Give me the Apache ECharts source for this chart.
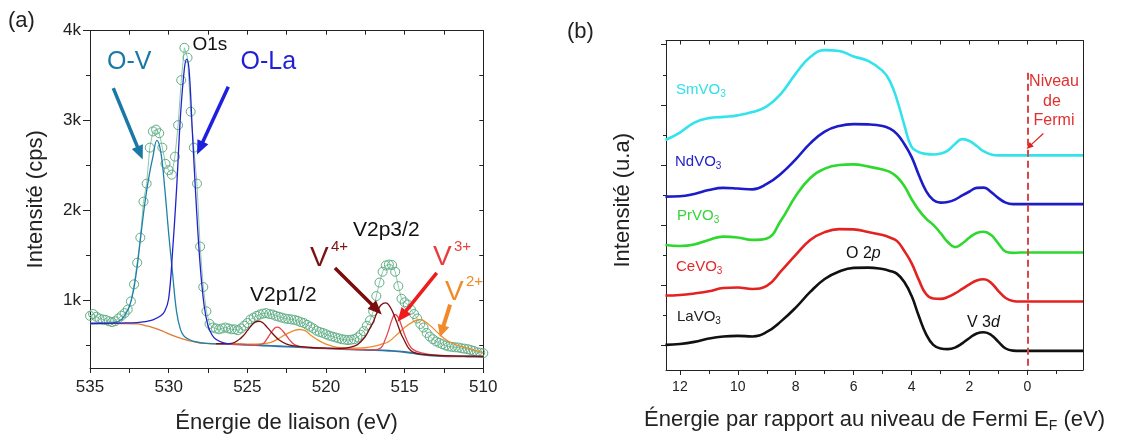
<!DOCTYPE html>
<html><head><meta charset="utf-8">
<script src="https://cdn.jsdelivr.net/npm/echarts@6/dist/echarts.min.js"></script>
<style>html,body{margin:0;padding:0;background:#fff}#c{width:1121px;height:435px}</style>
</head><body><div id="c"></div>
<script>
// ---------- Panel (a): XPS O1s / V2p ----------
const aEnergy = [535,534.8,534.6,534.4,534.2,534,533.8,533.6,533.4,533.2,533,532.8,532.6,532.4,532.2,532,531.8,531.6,531.4,531.2,531,530.8,530.6,530.4,530.2,530,529.8,529.6,529.4,529.2,529,528.8,528.6,528.4,528.2,528,527.8,527.6,527.4,527.2,527,526.8,526.6,526.4,526.2,526,525.8,525.6,525.4,525.2,525,524.8,524.6,524.4,524.2,524,523.8,523.6,523.4,523.2,523,522.8,522.6,522.4,522.2,522,521.8,521.6,521.4,521.2,521,520.8,520.6,520.4,520.2,520,519.8,519.6,519.4,519.2,519,518.8,518.6,518.4,518.2,518,517.8,517.6,517.4,517.2,517,516.8,516.6,516.4,516.2,516,515.8,515.6,515.4,515.2,515,514.8,514.6,514.4,514.2,514,513.8,513.6,513.4,513.2,513,512.8,512.6,512.4,512.2,512,511.8,511.6,511.4,511.2,511,510.8,510.6,510.4,510.2,510];
const aCounts = [830,850,820,800,790,785,770,760,770,800,830,860,900,990,1180,1420,1700,2100,2300,2700,2880,2900,2860,2700,2520,2450,2400,2600,2950,3450,3810,3700,3100,2700,2300,1600,1150,880,740,700,690,680,690,700,690,680,680,670,690,720,750,790,810,830,845,855,860,850,845,830,820,810,800,795,790,785,775,760,750,730,710,690,665,650,640,625,610,600,590,580,570,565,560,565,570,590,620,660,720,780,880,1050,1200,1320,1390,1400,1395,1320,1160,1020,980,955,900,850,800,740,700,640,600,570,545,530,515,500,490,485,480,478,470,465,460,450,440,425,420,415];

const bgOE = [535,533,532,531.5,531,530.5,530,529.5,529,528.5,528,527.5,527];
const bgOI = [745,745,740,722,700,668,630,595,568,545,528,522,519];
const bgVE = [527,526,525,524,523,522,521,520,519,518,517,516,515,514,513,512,511,510];
const bgVI = [519,516,508,500,492,484,476,468,461,455,450,442,428,402,385,380,378,377];
const ovE = [535,534,533.5,533,532.75,532.5,532.25,532,531.75,531.5,531.25,531,530.75,530.5,530.25,530,529.75,529.5,529.25,529,528.5,528,527.5,527];
const ovI = [745,745,752,790,850,930,1100,1380,1750,2100,2380,2600,2780,2650,2250,1750,1300,880,680,600,552,533,523,518];
const olaE = [535,533,532,531.5,531,530.5,530.25,530,529.75,529.5,529.25,529,528.85,528.7,528.5,528.25,528,527.75,527.5,527.25,527,526.5,526];
const olaI = [745,750,755,765,785,830,880,1020,1550,2230,3050,3580,3685,3560,2900,2080,1400,950,720,620,570,530,520];
const v4E = [527,526,525.5,525.25,525,524.75,524.5,524.25,524,523.75,523.5,523.25,523,522.5,522,521,520,519,518.5,518,517.5,517.25,517,516.75,516.5,516.2,516,515.75,515.5,515.25,515,514.75,514.5,514,513,512,510];
const v4I = [520,524,570,610,665,720,760,770,750,705,655,605,565,515,495,478,470,468,480,510,600,680,760,870,950,974,950,870,760,640,550,470,430,405,392,384,379];
const v3E = [527,525,524.5,524,523.75,523.5,523.25,523.1,522.9,522.6,522.3,522,521.5,521,520,519,518,517,516.5,516.25,516,515.8,515.6,515.4,515.2,515,514.75,514.5,514,513,512,510];
const v3I = [520,510,505,520,575,640,695,704,690,630,560,510,482,476,468,461,455,452,475,560,680,790,845,810,720,620,520,460,420,390,381,378];
const v2E = [527,526,525,524,523.5,523,522.5,522,521.66,521.3,521,520.5,520,519.5,519,518,517.5,517,516.5,516,515.5,515,514.5,514.03,513.5,513,512.5,512,511.5,511,510.5,510];
const v2I = [520,520,514,520,535,578,630,668,678,662,620,560,515,488,476,472,476,490,513,545,620,700,760,789,740,660,580,525,492,470,446,422];

// ---------- Panel (b): valence band spectra ----------
const bEnergy = [12.5,12,11.5,11,10.5,10,9.5,9,8.5,8,7.5,7,6.5,6,5.5,5,4.75,4.5,4.25,4,3.75,3.5,3.25,3,2.75,2.5,2.25,2,1.75,1.5,1.25,1,0.75,0.5,0.25,0,-1,-1.92];
const laVO3 = [0.02,0.05,0.12,0.23,0.30,0.32,0.30,0.45,0.81,1.26,1.78,2.21,2.46,2.58,2.59,2.54,2.48,2.38,2.11,1.65,0.98,0.38,0.02,-0.10,-0.12,-0.07,0.07,0.25,0.40,0.44,0.35,0.12,-0.10,-0.17,-0.18,-0.18,-0.18,-0.18];
const ceVO3 = [1.66,1.68,1.73,1.80,1.91,1.93,1.88,1.98,2.48,3.01,3.51,3.77,3.87,3.86,3.77,3.67,3.59,3.47,3.14,2.74,2.18,1.71,1.56,1.55,1.61,1.73,1.88,2.03,2.16,2.20,2.08,1.81,1.58,1.48,1.46,1.46,1.46,1.46];
const prVO3 = [3.34,3.31,3.36,3.51,3.62,3.59,3.51,3.56,4.17,4.97,5.57,5.88,6.00,6.02,5.95,5.85,5.77,5.60,5.30,4.87,4.50,4.22,4.01,3.74,3.44,3.27,3.39,3.59,3.74,3.78,3.67,3.39,3.12,3.08,3.09,3.09,3.09,3.09];
const ndVO3 = [4.95,4.96,5.04,5.17,5.24,5.22,5.19,5.37,5.72,6.19,6.72,7.11,7.30,7.36,7.35,7.30,7.21,7.03,6.70,6.27,5.67,5.14,4.84,4.75,4.77,4.85,4.99,5.12,5.24,5.25,5.10,4.90,4.75,4.70,4.70,4.70,4.70,4.70];
const smVO3 = [6.83,7.08,7.41,7.56,7.60,7.65,7.76,7.95,8.38,9.04,9.59,9.82,9.79,9.61,9.46,9.13,8.79,8.16,7.33,6.60,6.43,6.37,6.35,6.38,6.48,6.70,6.86,6.80,6.63,6.45,6.35,6.32,6.32,6.32,6.32,6.32,6.32,6.32];

const aYTicks = [1000,2000,3000,4000];
const aYMinor = [500,1500,2500,3500];
const aYRight = [500,1000,1500,2000,2500,3000,3500,4000];
const bXTicks = [0,2,4,6,8,10,12];
const bXMinor = [-1,1,3,5,7,9,11];
const bXTop = [-1,0,1,2,3,4,5,6,7,8,9,10,11,12];
const bYTicks = [0,2,4,6,8,10];
const bYMinor = [1,3,5,7,9];

const FONT = '"Liberation Sans", Arial, sans-serif';
const AX = '#222';
const pairs = (xs, ys) => xs.map((x, i) => [x, ys[i]]);

const chart = echarts.init(document.getElementById('c'), null, {renderer: 'canvas'});

function xAx(o) {
  return Object.assign({
    type: 'value', splitLine: {show: false},
    axisLine: {show: true, onZero: false, lineStyle: {color: AX, width: 1}},
    axisTick: {show: true, lineStyle: {color: AX, width: 1}},
    axisLabel: {show: false}
  }, o);
}
const lineCol = {color: AX, width: 1};

function fitLine(name, xs, ys, color, width) {
  return {name, type: 'line', xAxisIndex: 0, yAxisIndex: 0, data: pairs(xs, ys), smooth: 0.4,
    showSymbol: false, lineStyle: {color, width: width || 1.3}, itemStyle: {color}, z: 3};
}
function bLine(name, ys, color) {
  return {name, type: 'line', xAxisIndex: 2, yAxisIndex: 3, data: pairs(bEnergy, ys), smooth: 0.45,
    showSymbol: false, lineStyle: {color, width: 2.6}, itemStyle: {color}, z: 3};
}
function arrow(x1, y1, x2, y2, color, w, head) {
  return [
    {coord: [x1, y1], symbol: 'none', lineStyle: {color, width: w, type: 'solid'}},
    {coord: [x2, y2], symbol: 'triangle', symbolSize: head, lineStyle: {color, width: w, type: 'solid'}, itemStyle: {color}}
  ];
}
function txt(text, x, y, size, color, extra) {
  return {type: 'text', z: 100, style: Object.assign({text, x, y, fontSize: size, fill: color,
    fontFamily: FONT, verticalAlign: 'middle', align: 'left'}, extra || {})};
}
const subRich = (size, pad) => ({s: {fontSize: size, padding: [pad, 0, 0, 0]}});

const option = {
  animation: false,
  backgroundColor: '#fff',
  textStyle: {fontFamily: FONT},
  grid: [
    {left: 90, top: 30.7, width: 393.3, height: 337.3, outerBoundsMode: 'none', containLabel: false},
    {left: 666, top: 40.5, width: 417, height: 329.5, outerBoundsMode: 'none', containLabel: false}
  ],
  xAxis: [
    xAx({gridIndex: 0, position: 'bottom', min: 510, max: 535, inverse: true, interval: 5,
      axisTick: {show: true, length: 5, lineStyle: lineCol},
      minorTick: {show: true, splitNumber: 2, length: 5, lineStyle: lineCol},
      minorSplitLine: {show: false},
      axisLabel: {show: true, fontSize: 17, color: AX, margin: 11, fontFamily: FONT},
      name: 'Énergie de liaison (eV)', nameLocation: 'middle', nameGap: 44,
      nameTextStyle: {fontSize: 22, color: AX, fontFamily: FONT}}),
    xAx({gridIndex: 0, position: 'top', min: 510, max: 535, inverse: true, interval: 2.5,
      axisTick: {show: true, inside: true, length: 4, lineStyle: lineCol}}),
    xAx({gridIndex: 1, position: 'bottom', min: -1.92, max: 12.48, inverse: true,
      axisTick: {show: true, length: 5, customValues: bXTicks, lineStyle: lineCol},
      axisLabel: {show: true, customValues: bXTicks, fontSize: 14, color: AX, margin: 10, fontFamily: FONT},
      name: 'Énergie par rapport au niveau de Fermi E{s|F} (eV)', nameLocation: 'middle', nameGap: 37,
      nameTextStyle: {fontSize: 22, color: AX, fontFamily: FONT, rich: subRich(14, 12)}}),
    xAx({gridIndex: 1, position: 'bottom', min: -1.92, max: 12.48, inverse: true,
      axisLine: {show: false, onZero: false},
      axisTick: {show: true, length: 4, customValues: bXMinor, lineStyle: lineCol}}),
    xAx({gridIndex: 1, position: 'top', min: -1.92, max: 12.48, inverse: true,
      axisTick: {show: true, inside: true, length: 4, customValues: bXTop, lineStyle: lineCol}})
  ],
  yAxis: [
    xAx({gridIndex: 0, position: 'left', min: 250, max: 4000,
      axisTick: {show: true, length: 7, customValues: aYTicks, lineStyle: lineCol},
      axisLabel: {show: true, customValues: aYTicks, formatter: v => (v / 1000) + 'k', fontSize: 17, color: AX, margin: 9, fontFamily: FONT},
      name: 'Intensité (cps)', nameLocation: 'middle', nameGap: 43,
      nameTextStyle: {fontSize: 22, color: AX, fontFamily: FONT}}),
    xAx({gridIndex: 0, position: 'left', min: 250, max: 4000, axisLine: {show: false, onZero: false},
      axisTick: {show: true, length: 4, customValues: aYMinor, lineStyle: lineCol}}),
    xAx({gridIndex: 0, position: 'right', min: 250, max: 4000,
      axisTick: {show: true, inside: true, length: 4, customValues: aYRight, lineStyle: lineCol}}),
    xAx({gridIndex: 1, position: 'left', min: -0.815, max: 10.14,
      axisTick: {show: true, length: 5, customValues: bYTicks, lineStyle: lineCol},
      name: 'Intensité (u.a)', nameLocation: 'middle', nameGap: 32,
      nameTextStyle: {fontSize: 22, color: AX, fontFamily: FONT, padding: [0, 0, 0, 10]}}),
    xAx({gridIndex: 1, position: 'left', min: -0.815, max: 10.14, axisLine: {show: false, onZero: false},
      axisTick: {show: true, length: 3, customValues: bYMinor, lineStyle: lineCol}}),
    xAx({gridIndex: 1, position: 'right', min: -0.815, max: 10.14, axisTick: {show: false}})
  ],
  series: [
    {name: 'Mesure', type: 'line', xAxisIndex: 0, yAxisIndex: 0, data: pairs(aEnergy, aCounts),
      symbol: 'circle', symbolSize: 9, showSymbol: true, showAllSymbol: true,
      itemStyle: {color: 'rgba(255,255,255,0)', borderColor: '#5fae86', borderWidth: 1},
      lineStyle: {color: '#8fc9a8', width: 1}, z: 2,
      markLine: {silent: true, animation: false, label: {show: false}, symbol: ['none', 'triangle'],
        data: [
          arrow(533.52, 3361, 531.82, 2639, '#1a78a6', 3.5, [12, 14]),
          arrow(526.21, 3378, 528.01, 2695, '#1f1fe0', 3.5, [12, 14]),
          arrow(519.43, 1363, 516.77, 900, '#7a0d0d', 3.5, [12, 14]),
          arrow(512.96, 1307, 515.18, 826, '#f01c1c', 3.5, [12, 14]),
          arrow(512.11, 955, 512.64, 659, '#f08a2a', 4, [12, 12])
        ]}},
    fitLine('Fond O1s', bgOE, bgOI, '#e07a30'),
    fitLine('Fond V2p', bgVE, bgVI, '#2a74a8', 1.8),
    fitLine('V2+', v2E, v2I, '#ee8c2c'),
    fitLine('V3+', v3E, v3I, '#e5484e'),
    fitLine('V4+', v4E, v4I, '#7a1010'),
    fitLine('O-V', ovE, ovI, '#1f80ab'),
    fitLine('O-La', olaE, olaI, '#2222cc'),
    bLine('LaVO3', laVO3, '#111111'),
    bLine('CeVO3', ceVO3, '#e32222'),
    bLine('PrVO3', prVO3, '#2ed82e'),
    bLine('NdVO3', ndVO3, '#1c1cc8'),
    Object.assign(bLine('SmVO3', smVO3, '#33e3ec'), {
      markLine: {silent: true, animation: false, label: {show: false}, symbol: ['none', 'none'],
        data: [
          [{coord: [0, 9.07], lineStyle: {color: '#d84848', width: 2, type: [7, 4]}}, {coord: [0, -0.815]}],
          arrow(-0.55, 7.05, -0.06, 6.61, '#e02020', 1.2, [6, 7])
        ]}
    })
  ],
  graphic: [
    txt('(a)', 8, 21, 22, '#222'),
    txt('O1s', 192.5, 45, 19, '#111'),
    txt('O-V', 107, 62, 25, '#1a78a6'),
    txt('O-La', 240.5, 62, 25, '#1f1fd8'),
    txt('V2p1/2', 250, 295, 21, '#111'),
    txt('V2p3/2', 353, 230, 21, '#111'),
    txt('V', 310, 258, 28, '#7b1111'),
    txt('4+', 331, 247, 15, '#7b1111'),
    txt('V', 433, 257, 28, '#e83e3e'),
    txt('3+', 454, 247, 15, '#e83e3e'),
    txt('V', 445, 292, 28, '#f08a24'),
    txt('2+', 466, 282, 15, '#f08a24'),
    txt('(b)', 567, 32, 22, '#222'),
    txt('SmVO{s|3}', 676, 90, 15, '#2fe0ea', {rich: subRich(10, 9)}),
    txt('NdVO{s|3}', 675, 162, 15, '#2323c8', {rich: subRich(10, 9)}),
    txt('PrVO{s|3}', 677, 216, 15, '#36d436', {rich: subRich(10, 9)}),
    txt('CeVO{s|3}', 676, 267, 15, '#e02a2a', {rich: subRich(10, 9)}),
    txt('LaVO{s|3}', 677, 317, 15, '#222', {rich: subRich(10, 9)}),
    txt('O 2{i|p}', 846, 254, 16, '#111', {rich: {i: {fontStyle: 'italic', fontSize: 16}}}),
    txt('V 3{i|d}', 967, 323, 16, '#111', {rich: {i: {fontStyle: 'italic', fontSize: 16}}}),
    txt('Niveau', 1054, 82, 16, '#e03030', {align: 'center'}),
    txt('de', 1052, 102, 16, '#e03030', {align: 'center'}),
    txt('Fermi', 1054, 121, 16, '#e03030', {align: 'center'})
  ]
};
chart.setOption(option);
</script></body></html>
